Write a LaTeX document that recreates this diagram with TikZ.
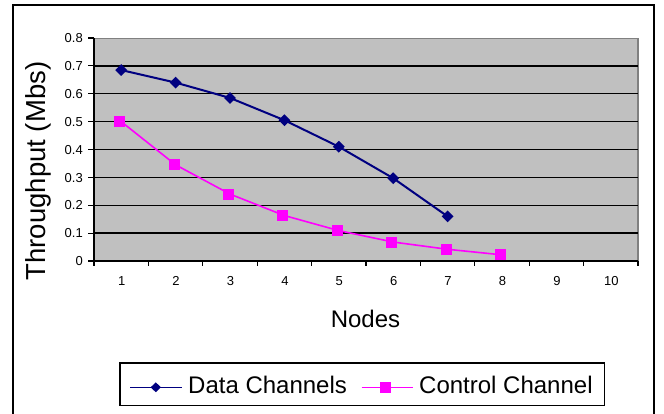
\documentclass[tikz,border=0pt]{standalone}
\usepackage{fontspec}
\setmainfont{Liberation Sans}
\usetikzlibrary{shapes.geometric}
\definecolor{navyc}{RGB}{0,0,128}
\definecolor{magc}{RGB}{255,0,255}
\definecolor{plotgray}{RGB}{192,192,192}
\definecolor{edgegray}{RGB}{128,128,128}
\tikzset{
  dataline/.style={navyc, line width=2pt, line join=round},
  ctrlline/.style={magc, line width=1.6pt, line join=round},
  dmark/.style={diamond, fill=navyc, inner sep=0pt, minimum width=12pt, minimum height=12pt},
  cmark/.style={rectangle, fill=magc, inner sep=0pt, minimum width=11pt, minimum height=11pt},
  ticklab/.style={font=\fontsize{13}{15}\selectfont, inner sep=0pt},
  bigtxt/.style={font=\fontsize{24}{28}\selectfont, inner sep=0pt},
  grid/.style={black, line width=1.3pt},
}
\begin{document}
\begin{tikzpicture}[x=1pt,y=-1pt]
\useasboundingbox (0,0) rectangle (664,414);
\clip (0,0) rectangle (664,414);
\fill[white] (0,0) rectangle (664,414);
% outer frame
\draw[black, line width=1.6pt] (13,5) rectangle (654,430);
% plot area
\fill[plotgray] (94,38.5) rectangle (638,261);
\draw[edgegray, line width=1.3pt] (94,38.5) -- (638,38.5) -- (638,261);
\begin{scope}[shift={(94pt,-261pt)}, x=54.4pt, y=278.75pt]
  \foreach \g in {0.1,0.2,...,0.75} \draw[grid] (0,\g) -- (10,\g);
  % axes
  \draw[black, line width=1.3pt] (0,0.8) -- (0,0) -- (10,0);
  \foreach \g in {0,0.1,...,0.85} \draw[black, line width=1.2pt] (0,\g) -- ++(-6pt,0);
  \foreach \k in {0,...,10} \draw[black, line width=1.2pt] (\k,0) -- ++(0,-5pt);
  % y labels
  \foreach \lab [count=\i from 0] in {0,0.1,0.2,0.3,0.4,0.5,0.6,0.7,0.8}
    \node[ticklab, anchor=base east] (yl\i) at ([shift={(-11pt,-4.7pt)}]0,\i/10) {\lab};
  % x labels
  \foreach \i in {1,...,10}
    \node[ticklab, anchor=base] (xl\i) at ([shift={(0.5pt,-24.6pt)}]\i-0.5,0) {\i};
  % data
  \foreach \v [count=\i] in {0.685,0.64,0.585,0.505,0.41,0.297,0.16}
    \coordinate (d\i) at (\i-0.5,\v);
  \foreach \v [count=\i] in {0.5,0.345,0.24,0.163,0.109,0.068,0.042,0.022}
    \coordinate (c\i) at (\i-0.5,\v);
\end{scope}
\draw[dataline] (d1) -- (d2) -- (d3) -- (d4) -- (d5) -- (d6) -- (d7);
\draw[ctrlline] (c1) -- (c2) -- (c3) -- (c4) -- (c5) -- (c6) -- (c7) -- (c8);
\foreach \i in {1,...,7} \node[dmark] (dm\i) at (d\i) {};
\foreach \i in {1,...,8} \node[cmark] (cm\i) at ([xshift=-1.5pt]c\i) {};
% axis titles
\node[font=\fontsize{27.5}{30}\selectfont, inner sep=0pt, rotate=90, anchor=base] (ytitle) at (45.5,171) {Throughput (Mbs)};
\node[bigtxt, anchor=base] (xtitle) at (365.5,327) {Nodes};
% legend
\draw[black, line width=1.3pt, fill=white] (120,363) rectangle (604.5,405.5);
\coordinate (la1) at (130,387.3);
\coordinate (la2) at (181.7,387.3);
\draw[navyc, line width=1.5pt] (la1) -- (la2);
\node[dmark, minimum width=10.5pt, minimum height=10pt] (lgd) at (155.8,387.3) {};
\node[bigtxt, anchor=base west] (lgdt) at (188,393.3) {Data Channels};
\coordinate (lb1) at (361.7,387.3);
\coordinate (lb2) at (413.3,387.3);
\draw[magc, line width=1.5pt] (lb1) -- (lb2);
\node[cmark] (lgc) at (385.5,387.3) {};
\node[bigtxt, anchor=base west] (lgct) at (419,393.3) {Control Channel};
\end{tikzpicture}
\end{document}
